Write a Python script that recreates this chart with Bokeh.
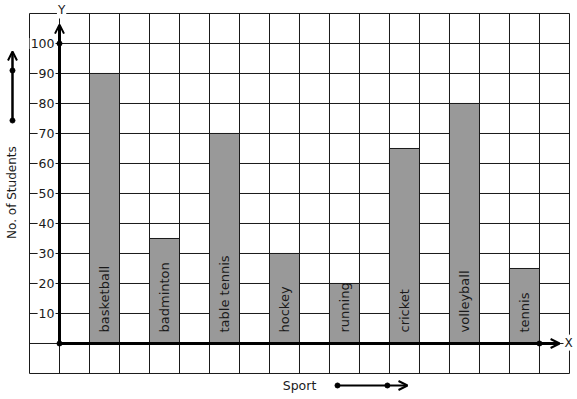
import numpy as np
from bokeh.plotting import figure
from bokeh.models import Range1d, Arrow, OpenHead
from bokeh.core.properties import value
from bokeh.embed import file_html
from bokeh.resources import INLINE

sports = ["basketball", "badminton", "table tennis", "hockey", "running",
          "cricket", "volleyball", "tennis"]
students = [90, 35, 70, 30, 20, 65, 80, 25]
y_ticks = [10, 20, 30, 40, 50, 60, 70, 80, 90, 100]
y_tick_labels = [str(t) for t in y_ticks]
x_label = "Sport"
y_label = "No. of Students"

FONT = value("DejaVu Sans")
INK = "#1a1a1a"

p = figure(width=577, height=399, output_backend="svg", toolbar_location=None,
           x_range=Range1d(-1.9667, 17.2667), y_range=Range1d(-18.667, 114.333),
           min_border=0)
p.axis.visible = False
p.grid.visible = False
p.outline_line_color = None
p.background_fill_color = "white"

# grid
gx = np.arange(-1, 18)
gy = np.arange(-10, 111, 10)
p.segment(x0=gx, y0=-10, x1=gx, y1=110, line_color=INK, line_width=1)
p.segment(x0=-1, y0=gy, x1=17, y1=gy, line_color=INK, line_width=1)

# bars
xc = 1.5 + 2 * np.arange(len(sports))
p.vbar(x=xc, width=1, bottom=0, top=students, fill_color="#999999",
       line_color=INK, line_width=1)
p.text(x=xc, y=3.67, text=sports, angle=np.pi / 2, text_align="left",
       text_baseline="middle", text_font=FONT, text_font_size="13px",
       text_color=INK)

# tick labels
p.text(x=-0.133, y=y_ticks, text=y_tick_labels, text_align="right",
       text_baseline="middle", text_font=FONT, text_font_size="12.5px",
       text_color=INK, background_fill_color="white", padding=1)

# axes with arrows
p.add_layout(Arrow(end=OpenHead(size=9, line_width=2, line_color="black"),
                   x_start=0, y_start=0, x_end=0, y_end=106.3,
                   line_width=3, line_color="black"))
p.add_layout(Arrow(end=OpenHead(size=9, line_width=2, line_color="black"),
                   x_start=0, y_start=0, x_end=16.67, y_end=0,
                   line_width=3, line_color="black"))
p.scatter(x=[0, 0, 16], y=[0, 100, 0], size=5, color="black")
p.text(x=[0.07], y=[111.0], text=["Y"], text_align="center",
       text_baseline="middle", text_font=FONT, text_font_size="12px",
       text_color=INK, background_fill_color="white", padding=1)
p.text(x=[16.97], y=[0.3], text=["X"], text_align="center",
       text_baseline="middle", text_font=FONT, text_font_size="12px",
       text_color=INK, background_fill_color="white", padding=1)

# side arrow + label
p.add_layout(Arrow(end=OpenHead(size=9, line_width=2, line_color="black"),
                   x_start=-1.567, y_start=74.33, x_end=-1.567, y_end=97.33,
                   line_width=2.5, line_color="black"))
p.scatter(x=[-1.567, -1.567], y=[74.33, 91], size=5, color="black")
p.text(x=[-1.6], y=[50.3], text=[y_label], angle=np.pi / 2, text_align="center",
       text_baseline="middle", text_font=FONT, text_font_size="12px",
       text_color=INK)

# bottom arrow + label
p.add_layout(Arrow(end=OpenHead(size=9, line_width=2, line_color="black"),
                   x_start=9.267, y_start=-14, x_end=11.6, y_end=-14,
                   line_width=2, line_color="black"))
p.scatter(x=[9.267, 10.93], y=[-14, -14], size=5, color="black")
p.text(x=[8.0], y=[-14], text=[x_label], text_align="center",
       text_baseline="middle", text_font=FONT, text_font_size="12.5px",
       text_color=INK)

open("out.html", "w").write(file_html(p, INLINE))
